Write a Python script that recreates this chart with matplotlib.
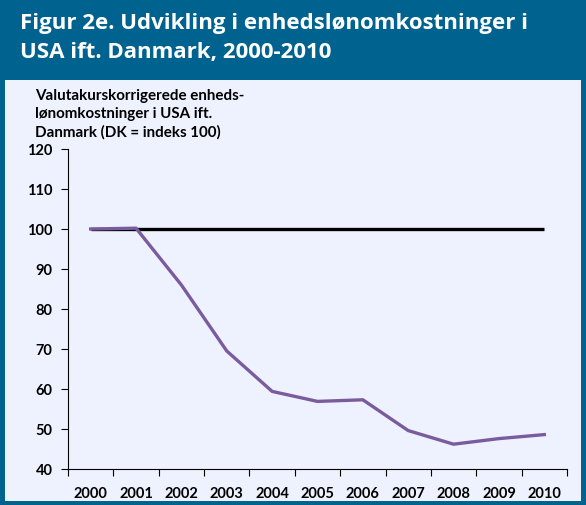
import matplotlib.pyplot as plt
from matplotlib.patches import Rectangle

# data
years = ['2000', '2001', '2002', '2003', '2004', '2005',
         '2006', '2007', '2008', '2009', '2010']
usa = [100.0, 100.2, 86.0, 69.5, 59.4, 56.9, 57.3, 49.6, 46.2, 47.6, 48.6]
dk = [100] * len(years)
y_ticks = [40, 50, 60, 70, 80, 90, 100, 110, 120]

title = 'Figur 2e. Udvikling i enhedslønomkostninger i\nUSA ift. Danmark, 2000-2010'
ylabel = 'Valutakurskorrigerede enheds-\nlønomkostninger i USA ift.\nDanmark (DK = indeks 100)'

frame_col = '#00628F'
panel_col = '#EEF2FE'

W, H = 586, 506
fig = plt.figure(figsize=(W / 100, H / 100), dpi=100, facecolor=frame_col)

# light panel under the header
fig.patches.append(Rectangle((5 / W, 4 / H), 576 / W, 421 / H,
                             transform=fig.transFigure, facecolor=panel_col,
                             edgecolor='none', zorder=-10))

fig.text(20 / W, 1 - 13 / H, title, color='white', fontsize=16,
         fontweight='bold', family='Open Sans', va='top', ha='left',
         linespacing=1.5)
fig.text(35 / W, 1 - 89 / H, ylabel, color='black', fontsize=10.9,
         fontweight='bold', family='Lato', va='top', ha='left',
         linespacing=1.35)

ax = fig.add_axes([68 / W, 1 - 470 / H, 499 / W, 320 / H])
ax.set_facecolor('none')

x = list(range(len(years)))
ax.plot(x, dk, color='black', lw=2.4, solid_capstyle='butt')
ax.plot(x, usa, color='#7A5C9E', lw=2.4, solid_joinstyle='round')

ax.set_xlim(-0.5, len(years) - 0.5)
ax.set_ylim(40, 120)
ax.set_yticks(y_ticks)

# ticks between categories, labels centred
ax.set_xticks([i - 0.5 for i in range(len(years) + 1)])
ax.set_xticklabels([])
ax.set_xticks(x, minor=True)
ax.set_xticklabels(years, minor=True)
ax.tick_params(axis='x', which='major', length=5, width=0.8, direction='out')
ax.tick_params(axis='x', which='minor', length=0, pad=12)
ax.tick_params(axis='y', length=5, width=0.8, direction='out', pad=6)

for lab in ax.get_xticklabels(minor=True) + ax.get_yticklabels():
    lab.set_fontweight('bold')
    lab.set_fontsize(10.5)
    lab.set_family('Lato')

for s in ['top', 'right']:
    ax.spines[s].set_visible(False)
for s in ['left', 'bottom']:
    ax.spines[s].set_linewidth(0.8)

fig.savefig('out.png', dpi=100, facecolor=frame_col)
